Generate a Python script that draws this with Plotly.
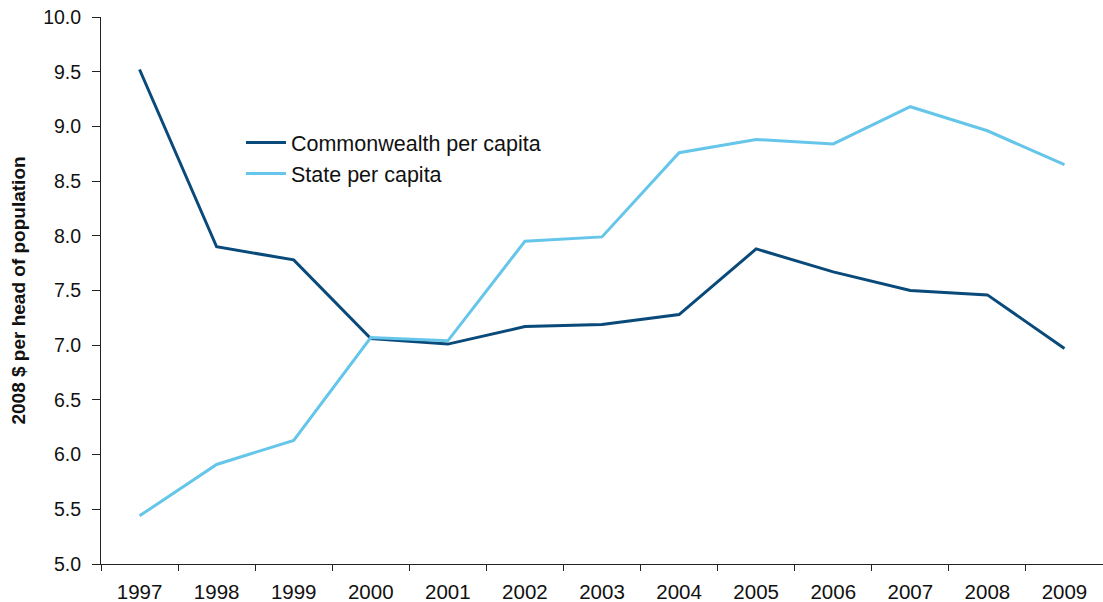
import plotly.graph_objects as go

years = ["1997", "1998", "1999", "2000", "2001", "2002", "2003",
         "2004", "2005", "2006", "2007", "2008", "2009"]
commonwealth = [9.52, 7.90, 7.78, 7.06, 7.01, 7.17, 7.19,
                7.28, 7.88, 7.67, 7.50, 7.46, 6.97]
state = [5.44, 5.91, 6.13, 7.07, 7.04, 7.95, 7.99,
         8.76, 8.88, 8.84, 9.18, 8.96, 8.65]
y_ticks = [5.0, 5.5, 6.0, 6.5, 7.0, 7.5, 8.0, 8.5, 9.0, 9.5, 10.0]

font_family = "Liberation Sans, Arial, sans-serif"

fig = go.Figure()
fig.add_trace(go.Scatter(x=years, y=commonwealth, mode="lines",
                         name="Commonwealth per capita",
                         line=dict(color="#0a4a7a", width=3)))
fig.add_trace(go.Scatter(x=years, y=state, mode="lines",
                         name="State per capita",
                         line=dict(color="#66c6ea", width=3)))

fig.update_layout(
    width=1103, height=602,
    margin=dict(l=101, r=0, t=17, b=38),
    paper_bgcolor="white", plot_bgcolor="white",
    font=dict(family=font_family, size=19, color="#111111"),
    showlegend=True,
    legend=dict(x=0.1397, y=0.808, xanchor="left", yanchor="top",
                bgcolor="rgba(0,0,0,0)", font=dict(size=21.5),
                tracegroupgap=0, itemwidth=40),
    xaxis=dict(type="category", range=[-0.5, 12.5],
               showline=True, linecolor="#222222", linewidth=1,
               ticks="outside", tickson="boundaries", ticklen=6,
               tickcolor="#222222", showgrid=False, zeroline=False,
               tickfont=dict(size=20.5), ticklabelstandoff=9),
    yaxis=dict(range=[5, 10], tickvals=y_ticks, tickformat=".1f",
               showline=True, linecolor="#222222", linewidth=1,
               ticks="outside", ticklen=8, tickcolor="#222222",
               showgrid=False, zeroline=False,
               tickfont=dict(size=19.5), ticklabelstandoff=7,
               title=dict(text="<b>2008 $ per head of population</b>",
                          font=dict(size=19), standoff=12)),
)

fig.write_html("out.html")
